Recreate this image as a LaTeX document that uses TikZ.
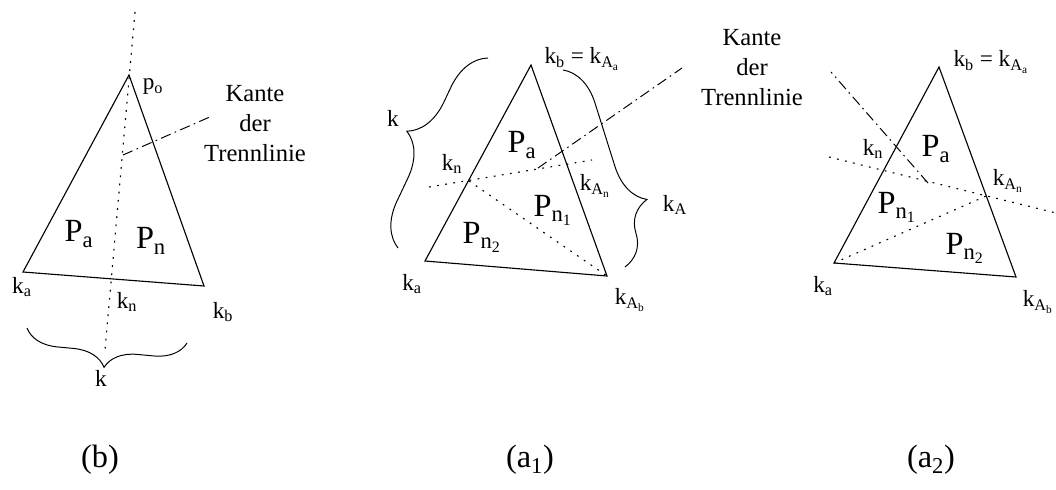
\documentclass[tikz,border=0pt]{standalone}
\usepackage{fontspec}
\setmainfont{Liberation Serif}
\usetikzlibrary{decorations.pathreplacing}
\tikzset{
  tri-edge/.style={draw,line width=0.8pt,line join=miter},
  cut-dotted/.style={draw,line width=0.8pt,dash pattern=on 0.45mm off 1.6mm},
  cut-sep/.style={draw,line width=0.7pt,dash pattern=on 2.6mm off 1.1mm on 0.4mm off 1.1mm},
  curly/.style={draw,line width=0.7pt,decorate,decoration={brace,amplitude=#1}},
  curly-at/.style 2 args={draw,line width=0.7pt,decorate,decoration={brace,amplitude=#1,aspect=#2}},
  % Beschriftungen: k-Punkte klein, Teilpolygone und Unterschriften gross
  lbl/.style={inner sep=0pt,font=\fontsize{16.5}{20}\selectfont},
  lbl-big/.style={inner sep=0pt,font=\fontsize{23}{28}\selectfont},
  lbl-note/.style={inner sep=0pt,align=center,font=\fontsize{17.5}{21.3}\selectfont},
}

\begin{document}
\begin{tikzpicture}[x=0.25mm,y=-0.25mm]
  \useasboundingbox (0,0) rectangle (1056,489);

  % (b)
  \coordinate (b-po) at (129,75);
  \coordinate (b-ka) at (23,272);
  \coordinate (b-kb) at (204,286);
  \coordinate (b-top) at (135,12);
  \coordinate (b-bot) at (105,350);
  \coordinate (b-sep) at (123,155);
  \coordinate (b-sepend) at (212,116);
  \coordinate (b-brl) at (27,328);
  \coordinate (b-brr) at (187,343);
  \draw[tri-edge] (b-po) -- (b-ka) -- (b-kb) -- cycle;
  \draw[cut-dotted] (b-top) -- (b-bot);
  \draw[cut-sep] (b-sep) -- (b-sepend);
  \draw[curly=8mm] (b-brr) -- (b-brl);
  \node[lbl] (b-po-lbl) at (153,87) {p\textsubscript{o}};
  \node[lbl-note] (b-kante) at (255,124) {Kante\\der\\Trennlinie};
  \node[lbl-big] (b-pa) at (79,234) {P\textsubscript{a}};
  \node[lbl-big] (b-pn) at (151,241) {P\textsubscript{n}};
  \node[lbl] (b-ka-lbl) at (22,287) {k\textsubscript{a}};
  \node[lbl] (b-kn-lbl) at (127,302) {k\textsubscript{n}};
  \node[lbl] (b-kb-lbl) at (223,312) {k\textsubscript{b}};
  \node[lbl] (b-k-lbl) at (101,378) {k};
  \node[lbl-big] (b-cap) at (100,460) {(b)};

  % (a1)
  \coordinate (a1-kb) at (531,65);
  \coordinate (a1-ka) at (425,261);
  \coordinate (a1-kab) at (607,276);
  \coordinate (a1-kn) at (469,181);
  \coordinate (a1-cutl) at (429,187);
  \coordinate (a1-cutr) at (592,160);
  \coordinate (a1-sep) at (538,168);
  \coordinate (a1-sepend) at (682,68);
  \coordinate (a1-brlb) at (398,248);
  \coordinate (a1-brlt) at (488,58);
  \coordinate (a1-brrt) at (563,70);
  \coordinate (a1-brrb) at (625,267);
  \draw[tri-edge] (a1-kb) -- (a1-ka) -- (a1-kab) -- cycle;
  \draw[cut-dotted] (a1-cutl) -- (a1-cutr);
  \draw[cut-dotted] (a1-kn) -- (a1-kab);
  \draw[cut-sep] (a1-sep) -- (a1-sepend);
  \draw[curly-at={10.5mm}{0.52}] (a1-brlb) -- (a1-brlt);
  \draw[curly-at={10.3mm}{0.72}] (a1-brrt) -- (a1-brrb);
  \node[lbl] (a1-kb-lbl) at (582,59) {k\textsubscript{b} = k\textsubscript{A\textsubscript{a}}};
  \node[lbl-note] (a1-kante) at (752,68) {Kante\\der\\Trennlinie};
  \node[lbl-big] (a1-pa) at (522,145) {P\textsubscript{a}};
  \node[lbl] (a1-kn-lbl) at (452,164) {k\textsubscript{n}};
  \node[lbl] (a1-kan-lbl) at (595,186) {k\textsubscript{A\textsubscript{n}}};
  \node[lbl-big] (a1-pn1) at (553,210) {P\textsubscript{n\textsubscript{1}}};
  \node[lbl-big] (a1-pn2) at (482,237) {P\textsubscript{n\textsubscript{2}}};
  \node[lbl] (a1-ka-lbl) at (412,284) {k\textsubscript{a}};
  \node[lbl] (a1-kab-lbl) at (630,300) {k\textsubscript{A\textsubscript{b}}};
  \node[lbl] (a1-k-lbl) at (393,118) {k};
  \node[lbl] (a1-ka2-lbl) at (675,205) {k\textsubscript{A}};
  \node[lbl-big] (a1-cap) at (530,460) {(a\textsubscript{1})};

  % (a2)
  \coordinate (a2-kb) at (939,67);
  \coordinate (a2-ka) at (834,263);
  \coordinate (a2-kab) at (1016,277);
  \coordinate (a2-kan) at (986,196);
  \coordinate (a2-cutl) at (829,157);
  \coordinate (a2-cutr) at (1056,213);
  \coordinate (a2-sep) at (928,183);
  \coordinate (a2-sepend) at (831,72);
  \draw[tri-edge] (a2-kb) -- (a2-ka) -- (a2-kab) -- cycle;
  \draw[cut-dotted] (a2-cutl) -- (a2-cutr);
  \draw[cut-dotted] (a2-ka) -- (a2-kan);
  \draw[cut-sep] (a2-sep) -- (a2-sepend);
  \node[lbl] (a2-kb-lbl) at (991,62) {k\textsubscript{b} = k\textsubscript{A\textsubscript{a}}};
  \node[lbl] (a2-kn-lbl) at (873,149) {k\textsubscript{n}};
  \node[lbl-big] (a2-pa) at (936,149) {P\textsubscript{a}};
  \node[lbl] (a2-kan-lbl) at (1008,181) {k\textsubscript{A\textsubscript{n}}};
  \node[lbl-big] (a2-pn1) at (897,207) {P\textsubscript{n\textsubscript{1}}};
  \node[lbl-big] (a2-pn2) at (965,248) {P\textsubscript{n\textsubscript{2}}};
  \node[lbl] (a2-ka-lbl) at (823,286) {k\textsubscript{a}};
  \node[lbl] (a2-kab-lbl) at (1038,302) {k\textsubscript{A\textsubscript{b}}};
  \node[lbl-big] (a2-cap) at (931,460) {(a\textsubscript{2})};
\end{tikzpicture}
\end{document}
